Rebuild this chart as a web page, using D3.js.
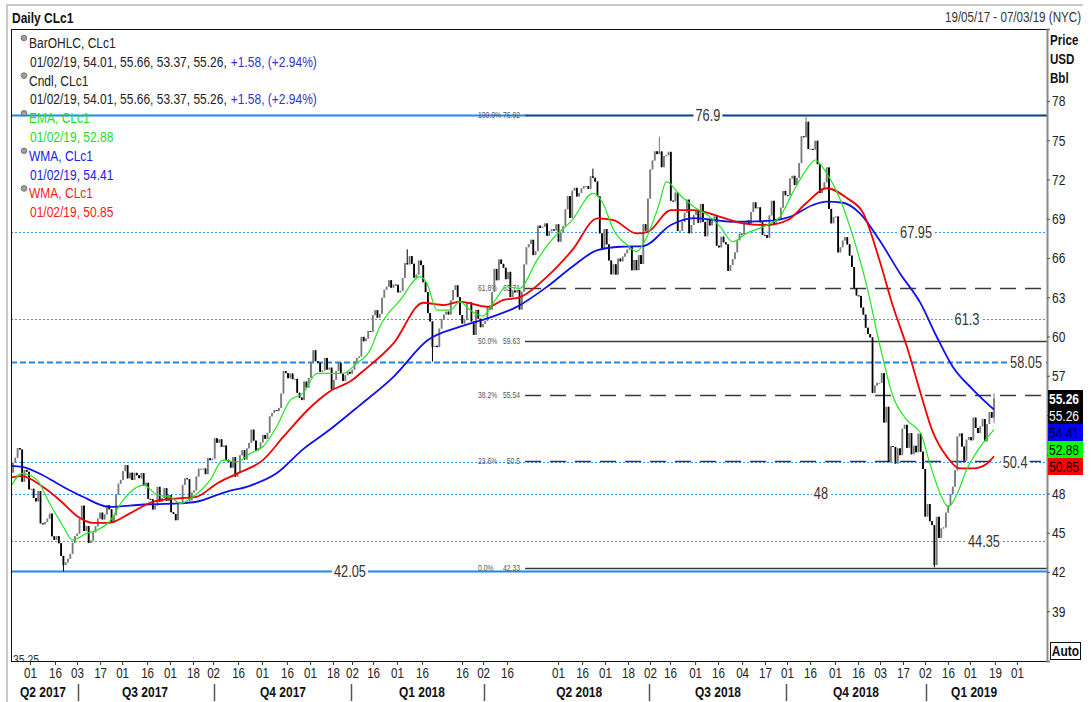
<!DOCTYPE html>
<html>
<head>
<meta charset="utf-8">
<script src="https://cdn.jsdelivr.net/npm/d3@7"></script>
<style>
  body { margin: 0; background: #fff; }
  svg text { font-family: "Liberation Sans", Arial, sans-serif; }
</style>
</head>
<body>
<svg id="chart" width="1092" height="702"></svg>
<script>
///////////////////////////////////////////////////////////////////////////
///////////////////////////////// Data ////////////////////////////////////
///////////////////////////////////////////////////////////////////////////
// daily closes, CLc1, 19/05/17 -> 01/02/19 (one array per month)
var may17 = [50.33, 50.73, 51.47, 51.36, 48.90, 49.80, 49.66, 48.32]
var jun17 = [48.36, 47.66, 47.40, 48.19, 45.72, 45.64, 45.83, 46.08, 46.46, 44.73, 44.46, 44.74, 44.20, 43.23, 42.53, 42.74, 43.01, 43.38, 44.24, 44.74, 44.93, 46.04]
var jul17 = [47.07, 45.13, 45.52, 44.23, 44.40, 45.04, 45.49, 46.08, 46.54, 46.02, 46.40, 47.12, 46.79, 45.77, 46.34, 47.89, 48.75, 49.04, 49.71, 50.17]
var aug17 = [49.16, 49.59, 49.03, 49.58, 49.39, 49.17, 49.56, 48.59, 48.82, 47.59, 47.55, 46.78, 47.09, 48.51, 47.37, 47.64, 48.41, 47.43, 47.87, 46.57, 46.44, 45.96, 47.23]
var sep17 = [47.29, 48.66, 49.16, 49.09, 47.48, 48.07, 48.23, 49.30, 49.89, 49.89, 49.91, 49.48, 50.69, 50.55, 50.66, 52.22, 51.88, 52.14, 51.56, 51.67]
var oct17 = [50.58, 50.42, 49.98, 50.79, 49.29, 49.58, 50.92, 51.30, 50.60, 51.45, 51.87, 52.88, 52.04, 51.29, 51.47, 51.90, 52.47, 52.18, 52.64, 53.90, 54.15, 54.38]
var nov17 = [54.30, 54.54, 55.64, 57.35, 57.20, 56.81, 57.17, 56.74, 56.76, 55.70, 55.33, 55.14, 56.55, 56.09, 56.83, 58.02, 58.95, 58.11, 57.99, 57.30, 57.40]
var dec17 = [58.36, 57.47, 57.62, 55.96, 56.69, 57.36, 57.99, 57.14, 56.60, 57.04, 57.30, 57.16, 57.46, 58.09, 58.36, 58.47, 59.97, 59.64, 59.84, 60.42]
var jan18 = [60.37, 61.63, 62.01, 61.44, 61.73, 62.96, 63.57, 63.80, 64.30, 63.73, 63.97, 63.95, 63.37, 63.49, 64.47, 65.61, 65.51, 66.14, 65.56, 64.50, 64.73]
var feb18 = [65.80, 65.45, 64.15, 63.39, 61.79, 61.15, 59.20, 59.29, 59.19, 60.60, 61.34, 61.68, 61.90, 61.68, 62.77, 63.55, 63.91, 63.01, 61.64]
var mar18 = [60.99, 61.25, 62.57, 62.60, 61.15, 60.12, 62.04, 61.36, 60.71, 60.96, 61.19, 62.34, 62.06, 63.40, 65.17, 64.30, 65.88, 65.55, 65.25, 64.38, 64.94]
var apr18 = [63.01, 63.51, 63.37, 63.54, 62.06, 63.42, 65.51, 66.82, 67.07, 67.39, 66.22, 66.52, 68.47, 68.29, 68.38, 68.64, 67.70, 68.05, 68.19, 68.10, 68.57]
var may18 = [67.25, 67.93, 68.43, 69.72, 70.73, 69.06, 71.14, 71.36, 70.70, 70.96, 71.31, 71.49, 71.49, 71.28, 72.24, 72.13, 71.84, 70.71, 67.88, 66.73, 68.21, 67.04]
var jun18 = [65.81, 64.75, 65.52, 64.73, 65.95, 65.74, 66.10, 66.36, 66.64, 66.89, 65.06, 65.85, 65.07, 66.22, 65.54, 68.58, 68.08, 70.53, 72.76, 73.45, 74.15]
var jul18 = [73.94, 74.14, 72.94, 73.80, 73.85, 74.11, 70.38, 70.33, 71.01, 68.06, 68.08, 68.76, 69.46, 70.46, 67.89, 68.52, 69.30, 69.61, 68.69, 70.13, 68.76]
var aug18 = [67.66, 68.96, 68.49, 69.01, 69.17, 66.94, 66.81, 67.63, 67.20, 67.04, 65.01, 65.46, 65.91, 66.43, 67.35, 67.86, 67.83, 68.72, 68.87, 68.53, 69.51, 70.25, 69.80]
var sep18 = [69.87, 68.72, 67.77, 67.75, 67.54, 69.25, 70.37, 68.59, 68.99, 68.91, 69.85, 71.12, 70.80, 70.78, 72.08, 72.28, 71.57, 72.12, 73.25]
var oct18 = [75.30, 75.23, 76.41, 74.33, 74.34, 74.29, 74.96, 73.17, 70.97, 71.34, 71.78, 72.92, 69.75, 68.65, 69.12, 69.17, 66.43, 66.82, 67.33, 67.59, 67.04, 66.18, 65.31]
var nov18 = [63.69, 63.14, 63.10, 62.21, 61.67, 60.67, 60.19, 59.93, 55.69, 56.25, 56.46, 56.46, 57.20, 53.43, 54.63, 50.42, 51.63, 51.56, 50.29, 51.45, 50.93]
var dec18 = [52.95, 53.25, 51.49, 52.61, 51.00, 51.65, 51.15, 52.58, 51.20, 49.88, 46.24, 47.20, 45.88, 45.59, 42.53, 46.22, 44.61, 45.33, 45.41]
var jan19 = [46.54, 47.09, 47.96, 48.52, 49.78, 52.36, 52.59, 51.59, 50.51, 52.11, 52.31, 52.07, 53.80, 53.01, 52.62, 53.13, 53.69, 51.99, 53.31, 54.23, 53.79]
var feb19 = [55.26]
var firstOpen = 49.6

// intraday extremes that stick out of the bodies (bar index)
var spikes = [
  {i: 22, low: 42.05}, {i: 172, high: 66.66}, {i: 183, low: 58.07},
  {i: 253, high: 72.83}, {i: 282, high: 75.27}, {i: 346, high: 76.90},
  {i: 402, low: 42.36}, {i: 428, high: 55.66, low: 53.37}
]

// moving averages: [bar index, value]
var emaPts = [[-1,48.51],[4,49.54],[10.5,49.02],[16,47.24],[22,45.46],[26,44.44],[32,44.95],[36.6,45.2],[42,45.84],[48,47.5],[57,48.64],[63,47.88],[68.5,47.75],[73,47.24],[78.5,47.75],[86,49.02],[91.6,50.55],[97.7,50.42],[103.4,51.06],[109,51.57],[115,53.1],[121,55.14],[126.5,55.65],[132.6,57.18],[138,57.18],[144,57.18],[150,57.95],[155.8,58.96],[160,60.75],[169,62.79],[177.6,64.57],[180.6,64.06],[185,62.02],[190.7,62.02],[195,62.66],[199.4,62.02],[205,61.56],[209.4,62.53],[215.5,63.8],[221,63.68],[228.6,65.84],[235.6,67.5],[244,68.9],[253,70.94],[257.4,70.18],[262,68.14],[268,66.99],[272,66.48],[276.6,67.63],[282,70.18],[285,71.83],[291,70.81],[297,69.92],[303,69.28],[308.5,68.39],[314,67.24],[320,67.88],[329,68.52],[334.6,69.15],[340,70.94],[346,72.72],[350,73.49],[355,72.47],[361,70.43],[366.5,67.63],[372.6,63.8],[378,59.47],[384,55.39],[390,53.61],[396,52.6],[400,50.3],[404.5,48.0],[408,46.98],[412,48.0],[416,49.79],[422,51.57],[428,52.88]]
var wmaLongPts = [[-1,50.12],[4,50.04],[13,49.4],[22,48.5],[30.5,47.75],[42,46.98],[57,47.16],[72,47.24],[80,47.37],[93,48.13],[103,48.57],[115,49.54],[126.5,51.37],[138,52.85],[151,54.7],[166,56.92],[181,59.73],[195,60.75],[207,61.39],[220,62.28],[233,63.8],[244,65.33],[255,66.6],[265,66.86],[275,66.91],[287,68.52],[297,69.05],[314,68.77],[329,68.83],[339,69.15],[349,70.05],[355,70.3],[362,70.22],[369.5,69.41],[378,67.37],[387,64.82],[396,62.53],[403,59.98],[410,57.69],[419,55.91],[428,54.41]]
var wmaMidPts = [[-1,49.23],[4,49.33],[13,48.51],[22,47.24],[28,46.27],[35,45.76],[42,45.76],[51,46.48],[61,47.37],[72,47.63],[80,47.75],[89,48.77],[98,49.54],[109,50.55],[118,52.34],[130,54.63],[138,55.78],[148,56.67],[152,57.25],[166,59.47],[179,62.58],[188,62.4],[195,62.66],[207,62.27],[214,62.79],[221,62.99],[233,64.57],[244,66.6],[255,69.03],[262,68.9],[272,67.88],[277,68.0],[287,69.66],[297,69.66],[308.5,69.15],[318.5,68.65],[329,68.52],[338,68.9],[346,70.18],[355,71.33],[364,70.56],[371,69.41],[378,65.84],[384,62.27],[390,59.21],[396,55.65],[401,52.85],[407.5,50.8],[413,49.92],[419,49.92],[425,50.3],[428,50.85]]

// horizontal support / resistance lines
var levelVals = [76.9, 67.95, 61.3, 58.05, 50.4, 48, 44.35, 42.05]
var levelKind = ['solid', 'dot', 'dot', 'dash', 'dot', 'dot', 'dot', 'solid']
var levelLabelIdx = [303.2, 394, 416.2, 442, 437.2, 352.5, 423.6, 147]

// fibonacci retracement 42.33 -> 76.92
var fibPct = ['100.0%', '61.8%', '50.0%', '38.2%', '23.6%', '0.0%']
var fibVal = [76.92, 63.71, 59.63, 55.54, 50.5, 42.33]
var fibDashed = [false, true, false, true, true, false]
var fibStartIdx = 223.4

// last values shown on the price axis
var lastVals = [55.26, 55.26, 54.41, 52.88, 50.85]
var lastFill = ['#000', '#000', '#0000ff', '#00ff00', '#ff0000']
var lastInk = ['#fff', '#fff', '#000', '#000', '#000']

// x axis labels (bar index where each label sits)
var tickIdx = [7.4,18.3,27.9,38,47.6,58.5,68.5,78.5,87.3,98.2,108.6,119.5,129.6,139.6,147.9,157.1,167.5,178.4,195.9,205.1,215.5,237.8,248.3,258.3,268.3,277.9,286.6,297.6,307.6,318.1,328.1,337.7,347.7,358.6,368.7,378.3,388.3,397.9,407.9,417.5,428.4,438]
var tickLab = ['01','16','03','17','01','16','01','18','02','16','01','16','01','18','02','16','01','16','16','02','16','01','16','01','18','02','16','01','16','04','17','01','16','01','16','03','17','02','16','01','19','01']
var qSepIdx = [28.4, 87.7, 147.5, 205.5, 277.5, 337.3, 398.3]
var qLab = ['Q2 2017', 'Q3 2017', 'Q4 2017', 'Q1 2018', 'Q2 2018', 'Q3 2018', 'Q4 2018', 'Q1 2019']
var qLabIdx = [13.1, 57.6, 117.8, 178.4, 247, 307.6, 367.8, 419.3]
var yTicks = d3.range(39, 79, 3)

// legend
var legendRows = [
  {name: 'BarOHLC, CLc1', color: '#222', vals: '01/02/19, 54.01, 55.66, 53.37, 55.26,', chg: '+1.58, (+2.94%)'},
  {name: 'Cndl, CLc1', color: '#222', vals: '01/02/19, 54.01, 55.66, 53.37, 55.26,', chg: '+1.58, (+2.94%)'},
  {name: 'EMA, CLc1', color: '#22e022', vals: '01/02/19, 52.88', chg: ''},
  {name: 'WMA, CLc1', color: '#2020ee', vals: '01/02/19, 54.41', chg: ''},
  {name: 'WMA, CLc1', color: '#ff1a1a', vals: '01/02/19, 50.85', chg: ''}
]

///////////////////////////////////////////////////////////////////////////
///////////////////////////////// Setup ///////////////////////////////////
///////////////////////////////////////////////////////////////////////////
var plot = {left: 11, top: 29, right: 1047, bottom: 661}
var SQ = 0.8 // the terminal font is a narrow one

// squeeze a text horizontally around its anchor point
function narrow(node) {
  var x0 = +(node.getAttribute('x') || 0)
  d3.select(node).attr('x', 0)
    .attr('transform', 'translate(' + x0 + ',0) scale(' + SQ + ',1)')
}

var closes = [].concat(may17, jun17, jul17, aug17, sep17, oct17, nov17, dec17,
  jan18, feb18, mar18, apr18, may18, jun18, jul18, aug18, sep18, oct18, nov18, dec18, jan19, feb19)

var bars = closes.map(function (c, i) {
  var o = i ? closes[i - 1] : firstOpen
  return {i: i, o: o, c: c, h: Math.max(o, c), l: Math.min(o, c)}
})
spikes.forEach(function (s) {
  if (s.high) bars[s.i].h = s.high
  if (s.low) bars[s.i].l = s.low
})

var x = d3.scaleLinear().domain([0, closes.length - 1]).range([13, 994])
var y = d3.scaleLinear().domain([35.2, 83.5]).range([plot.bottom, plot.top])

var svg = d3.select('#chart')
svg.append('defs').append('clipPath').attr('id', 'plotClip')
  .append('rect')
  .attr('x', plot.left).attr('y', plot.top)
  .attr('width', plot.right - plot.left).attr('height', plot.bottom - plot.top)

// outer frame + headers
svg.append('path').attr('d', 'M7,702V5H1083')
  .attr('fill', 'none').attr('stroke', '#b8b8b8').attr('stroke-width', 1.5)
svg.append('text').attr('class', 'sq').attr('x', 12).attr('y', 23)
  .style('font-size', '15px').style('font-weight', 'bold').attr('fill', '#111')
  .text('Daily CLc1')
svg.append('text').attr('class', 'sq').attr('x', 1081).attr('y', 22).attr('text-anchor', 'end')
  .style('font-size', '14.5px').attr('fill', '#333')
  .text('19/05/17 - 07/03/19 (NYC)')
svg.selectAll('.unit').data(['Price', 'USD', 'Bbl']).enter().append('text')
  .attr('class', 'sq')
  .attr('x', 1050).attr('y', function (d, i) { return 45 + i * 19 })
  .style('font-size', '14.5px').style('font-weight', 'bold').attr('fill', '#111')
  .text(function (d) { return d })

var g = svg.append('g').attr('clip-path', 'url(#plotClip)')

///////////////////////////////////////////////////////////////////////////
/////////////////////////////// Levels ////////////////////////////////////
///////////////////////////////////////////////////////////////////////////
var dashFor = {solid: null, dot: '2,2', dash: '6,3'}
var widthFor = {solid: 2, dot: 1.2, dash: 2}
var colorFor = {solid: '#1e88f0', dot: '#3a96ff', dash: '#1e88f0'}

g.selectAll('.level').data(levelVals).enter().append('line')
  .attr('x1', plot.left).attr('x2', plot.right)
  .attr('y1', function (d) { return Math.round(y(d)) + 0.5 })
  .attr('y2', function (d) { return Math.round(y(d)) + 0.5 })
  .attr('stroke', function (d, i) { return colorFor[levelKind[i]] })
  .attr('stroke-width', function (d, i) { return widthFor[levelKind[i]] })
  .attr('stroke-dasharray', function (d, i) { return dashFor[levelKind[i]] })

// fibonacci lines
g.selectAll('.fib').data(fibVal).enter().append('line')
  .attr('x1', x(fibStartIdx)).attr('x2', plot.right)
  .attr('y1', function (d) { return Math.round(y(d)) + 0.5 })
  .attr('y2', function (d) { return Math.round(y(d)) + 0.5 })
  .attr('stroke', '#3a3a3a').attr('stroke-width', 1.3)
  .attr('stroke-dasharray', function (d, i) { return fibDashed[i] ? '16,9' : null })

g.selectAll('.fibPct').data(fibPct).enter().append('text')
  .attr('class', 'sq')
  .attr('x', x(fibStartIdx) - 47).attr('y', function (d, i) { return y(fibVal[i]) + 3 })
  .style('font-size', '8.5px').attr('fill', '#555')
  .text(function (d) { return d })
g.selectAll('.fibVal').data(fibVal).enter().append('text')
  .attr('class', 'sq')
  .attr('x', x(fibStartIdx) - 5).attr('y', function (d) { return y(d) + 3 })
  .attr('text-anchor', 'end')
  .style('font-size', '8.5px').attr('fill', '#555')
  .text(function (d) { return d })

///////////////////////////////////////////////////////////////////////////
/////////////////////////////// Candles ///////////////////////////////////
///////////////////////////////////////////////////////////////////////////
var candle = g.selectAll('.candle').data(bars).enter().append('g')
candle.append('line')
  .attr('x1', function (d) { return x(d.i) }).attr('x2', function (d) { return x(d.i) })
  .attr('y1', function (d) { return y(d.h) }).attr('y2', function (d) { return y(d.l) })
  .attr('stroke', function (d) { return d.c >= d.o ? '#777' : '#000' })
  .attr('stroke-width', 1)
candle.append('rect')
  .attr('x', function (d) { return x(d.i) - 0.9 })
  .attr('width', 1.8)
  .attr('y', function (d) { return y(Math.max(d.o, d.c)) })
  .attr('height', function (d) { return Math.max(1, y(Math.min(d.o, d.c)) - y(Math.max(d.o, d.c))) })
  .attr('fill', function (d) { return d.c >= d.o ? '#7a7a7a' : '#000' })

///////////////////////////////////////////////////////////////////////////
/////////////////////////// Moving averages ///////////////////////////////
///////////////////////////////////////////////////////////////////////////
var maLine = d3.line()
  .x(function (d) { return x(d[0]) })
  .y(function (d) { return y(d[1]) })
  .curve(d3.curveMonotoneX)

g.append('path').attr('d', maLine(wmaLongPts))
  .attr('fill', 'none').attr('stroke', '#1010ee').attr('stroke-width', 1.8)
g.append('path').attr('d', maLine(wmaMidPts))
  .attr('fill', 'none').attr('stroke', '#f00000').attr('stroke-width', 1.8)
g.append('path').attr('d', maLine(emaPts))
  .attr('fill', 'none').attr('stroke', '#1ee81e').attr('stroke-width', 1.2)

// level labels sitting on white patches
var labBg = g.append('g')
var labTx = g.append('g')
labTx.selectAll('text').data(levelVals).enter().append('text')
  .attr('class', 'sq')
  .attr('x', function (d, i) { return x(levelLabelIdx[i]) })
  .attr('y', function (d) { return y(d) })
  .attr('dy', '0.36em').attr('text-anchor', 'middle')
  .style('font-size', '16px').attr('fill', '#333')
  .text(function (d) { return d })

// clipped scale label at the very bottom
g.append('text').attr('class', 'sq').attr('x', 13).attr('y', 664)
  .style('font-size', '13px').attr('fill', '#333').text('35.25')

///////////////////////////////////////////////////////////////////////////
///////////////////////////////// Axes ////////////////////////////////////
///////////////////////////////////////////////////////////////////////////
svg.append('rect')
  .attr('x', plot.left + 0.5).attr('y', plot.top + 0.5)
  .attr('width', plot.right - plot.left).attr('height', plot.bottom - plot.top)
  .attr('fill', 'none').attr('stroke', '#111').attr('stroke-width', 1)

// last value boxes stack downward from the close; tick labels under them stay hidden
var boxH = 17
var boxTop = y(lastVals[0]) - boxH / 2
var boxBottom = boxTop + boxH * lastVals.length

var yAxis = svg.append('g').attr('transform', 'translate(' + plot.right + ',0)')
  .call(d3.axisRight(y).tickValues(yTicks).tickSize(3).tickPadding(2)
    .tickFormat(function (d) { return (y(d) > boxTop - 6 && y(d) < boxBottom + 6) ? '' : d3.format('d')(d) }))
yAxis.select('.domain').attr('stroke', '#8a8a8a').attr('stroke-width', 2)
yAxis.selectAll('.tick line').attr('stroke', '#555')
yAxis.selectAll('.tick text').attr('class', 'sq').style('font-size', '15px').attr('fill', '#222')
  .style('font-family', '"Liberation Sans", Arial, sans-serif')

var xAxis = svg.append('g').attr('transform', 'translate(0,' + plot.bottom + ')')
  .call(d3.axisBottom(x).tickValues(tickIdx).tickSize(4).tickPadding(3)
    .tickFormat(function (d, i) { return tickLab[i] }))
xAxis.select('.domain').remove()
xAxis.selectAll('.tick line').attr('stroke', '#333')
xAxis.selectAll('.tick text').attr('class', 'sq').style('font-size', '14.5px').attr('fill', '#222')
  .style('font-family', '"Liberation Sans", Arial, sans-serif')

svg.selectAll('.qsep').data(qSepIdx).enter().append('line')
  .attr('x1', function (d) { return Math.round(x(d)) + 0.5 })
  .attr('x2', function (d) { return Math.round(x(d)) + 0.5 })
  .attr('y1', 684).attr('y2', 701)
  .attr('stroke', '#555').attr('stroke-width', 1.5)
svg.selectAll('.qlab').data(qLab).enter().append('text')
  .attr('class', 'sq')
  .attr('x', function (d, i) { return x(qLabIdx[i]) }).attr('y', 697)
  .attr('text-anchor', 'middle')
  .style('font-size', '15px').style('font-weight', 'bold').attr('fill', '#111')
  .text(function (d) { return d })

lastVals.forEach(function (v, i) {
  var top = boxTop + i * boxH
  svg.append('rect').attr('x', plot.right + 1).attr('y', top)
    .attr('width', 35).attr('height', boxH).attr('fill', lastFill[i])
  svg.append('text').attr('class', 'sq').attr('x', plot.right + 2).attr('y', top + boxH - 3.5)
    .style('font-size', '15px').style('font-weight', i === 0 ? 'bold' : 'normal')
    .attr('fill', lastInk[i]).text(d3.format('.2f')(v))
})

// auto button
svg.append('rect').attr('x', 1050.5).attr('y', 642.5).attr('width', 30).attr('height', 17)
  .attr('fill', '#fff').attr('stroke', '#111')
svg.append('text').attr('class', 'sq').attr('x', 1065.5).attr('y', 656).attr('text-anchor', 'middle')
  .style('font-size', '15px').style('font-weight', 'bold').attr('fill', '#111').text('Auto')

///////////////////////////////////////////////////////////////////////////
//////////////////////////////// Legend ///////////////////////////////////
///////////////////////////////////////////////////////////////////////////
var leg = svg.append('g')
var chgTexts = []
legendRows.forEach(function (r, i) {
  var base = 48 + i * 37.6
  leg.append('circle').attr('cx', 24).attr('cy', base - 10).attr('r', 2.8)
    .attr('fill', '#a0a0a0').attr('stroke', '#606060').attr('stroke-width', 0.8)
  leg.append('text').attr('class', 'sq').attr('x', 29).attr('y', base)
    .style('font-size', '15px').attr('fill', r.color).text(r.name)
  var v = leg.append('text').attr('class', 'sq').attr('x', 30).attr('y', base + 18.8)
    .style('font-size', '15px').attr('fill', r.color).text(r.vals)
  if (r.chg) chgTexts.push({after: v, text: r.chg, y: base + 18.8})
})

///////////////////////////////////////////////////////////////////////////
/////////////////////////// Narrow the text ///////////////////////////////
///////////////////////////////////////////////////////////////////////////
svg.selectAll('text.sq').each(function () { narrow(this) })

// legend change figures follow their (narrowed) value strings
chgTexts.forEach(function (c) {
  var r = c.after.node().getBoundingClientRect()
  var t = leg.append('text').attr('x', r.right + 4).attr('y', c.y)
    .style('font-size', '15px').attr('fill', '#3a2fd0').text(c.text)
  narrow(t.node())
})

// white patches behind the level labels (after narrowing)
labTx.selectAll('text').each(function () {
  var r = this.getBoundingClientRect()
  labBg.append('rect')
    .attr('x', r.left - 2).attr('y', r.top + 2)
    .attr('width', r.width + 4).attr('height', r.height - 4)
    .attr('fill', '#fff')
})
</script>
</body>
</html>
